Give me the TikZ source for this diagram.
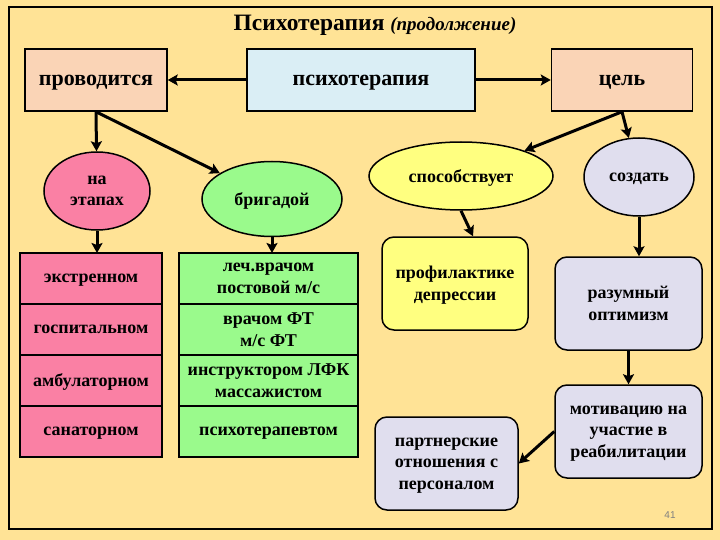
\documentclass[tikz,border=0pt]{standalone}
\usepackage{fontspec}
\setmainfont{Liberation Serif}
\setsansfont{Liberation Sans}
\usetikzlibrary{positioning,shapes.geometric,arrows.meta}

\definecolor{slidebg}{RGB}{255,227,150}
\definecolor{peach}{RGB}{250,212,182}
\definecolor{paleblue}{RGB}{218,238,245}
\definecolor{pinkfill}{RGB}{250,128,164}
\definecolor{greenfill}{RGB}{154,250,140}
\definecolor{yellowfill}{RGB}{255,255,128}
\definecolor{lavender}{RGB}{224,222,238}

\newcommand{\bigfont}{\fontsize{22}{26}\selectfont\bfseries}
\newcommand{\smallfont}{\fontsize{18}{21.5}\selectfont\bfseries}

\begin{document}
\begin{tikzpicture}[x=1pt,y=-1pt,node distance=0pt]
\tikzstyle{head} = [rectangle, draw=black, line width=1.5pt, minimum height=62pt, text centered, text depth=-6pt, font=\bigfont]
\tikzstyle{oval} = [ellipse, draw=black, line width=1.5pt, inner sep=0pt, align=center, text depth=-6pt, font=\smallfont]
\tikzstyle{cell} = [rectangle, draw=black, line width=1.5pt, minimum height=51pt, inner sep=0pt, outer sep=0pt, align=center, text depth=-6pt, font=\smallfont]
\tikzstyle{card} = [rectangle, rounded corners=12pt, draw=black, line width=1.5pt, minimum width=146pt, minimum height=93pt, align=center, text depth=-6pt, font=\smallfont]
\tikzstyle{arrow} = [-{Stealth[length=10pt,width=11pt,inset=2pt]}, line width=3pt]

\fill [slidebg] (0,0) rectangle (720,540);
\draw [line width=2pt] (9,7) rectangle (712,529);

\node (Title) [text depth=0pt] at (375,23) {\fontsize{23.5}{26}\selectfont\bfseries Психотерапия \fontsize{19}{20}\selectfont\itshape (продолжение)};

% top row
\node (Provoditsya) [head, fill=peach, minimum width=142pt] at (96,80) {проводится};
\node (Psikhoterapiya) [head, fill=paleblue, minimum width=228pt] at (361,80) {психотерапия};
\node (Tsel) [head, fill=peach, minimum width=141pt] at (622,80) {цель};

\node (NaEtapakh) [oval, fill=pinkfill, minimum width=106pt, minimum height=78pt] at (97,191) {на\\этапах};
\node (Brigadoi) [oval, fill=greenfill, minimum width=140pt, minimum height=75pt] at (272,199) {бригадой};
\node (Sposobstvuet) [oval, fill=yellowfill, minimum width=184pt, minimum height=68pt] at (461,176) {способствует};
\node (Sozdat) [oval, fill=lavender, minimum width=110pt, minimum height=78pt] at (639,177) {создать};

% pink column
\node (Ekstrennom) [cell, fill=pinkfill, minimum width=142pt] at (91,278.5) {экстренном};
\node (Gospitalnom) [cell, fill=pinkfill, minimum width=142pt, below=of Ekstrennom] {госпитальном};
\node (Ambulatornom) [cell, fill=pinkfill, minimum width=142pt, below=of Gospitalnom] {амбулаторном};
\node (Sanatornom) [cell, fill=pinkfill, minimum width=142pt, below=of Ambulatornom] {санаторном};

% green column
\node (LechVrachom) [cell, fill=greenfill, minimum width=179pt] at (268.5,278.5) {леч.врачом\\постовой м/с};
\node (VrachomFT) [cell, fill=greenfill, minimum width=179pt, below=of LechVrachom] {врачом ФТ\\м/с ФТ};
\node (Instruktorom) [cell, fill=greenfill, minimum width=179pt, below=of VrachomFT] {инструктором ЛФК\\массажистом};
\node (Psikhoterapevtom) [cell, fill=greenfill, minimum width=179pt, below=of Instruktorom] {психотерапевтом};

% right part
\node (Profilaktike) [card, fill=yellowfill] at (455,283.5) {профилактике\\депрессии};
\node (Razumnyi) [card, fill=lavender, minimum width=147pt] at (628.5,303.5) {разумный\\оптимизм};
\node (Motivatsiyu) [card, fill=lavender, minimum width=147pt] at (628.5,431.5) {мотивацию на\\участие в\\реабилитации};
\node (Partnerskie) [card, fill=lavender, minimum width=143pt] at (446.5,463.5) {партнерские\\отношения с\\персоналом};

\node (PageNum) [font=\sffamily\fontsize{10}{12}\selectfont, text=gray] at (670,515) {41};

\draw [arrow] (Psikhoterapiya) -- (Provoditsya);
\draw [arrow] (Psikhoterapiya) -- (Tsel);
\draw [arrow] (Provoditsya.south) -- (NaEtapakh);
\draw [arrow] (Provoditsya.south) -- (Brigadoi);
\draw [arrow] (Tsel.south) -- (Sposobstvuet);
\draw [arrow] (Tsel.south) -- (Sozdat);
\draw [arrow] (NaEtapakh.south) -- (NaEtapakh.south |- Ekstrennom.north);
\draw [arrow] (Brigadoi.south) -- (Brigadoi.south |- LechVrachom.north);
\draw [arrow] (Sposobstvuet.south) -- ([xshift=18pt]Profilaktike.north);
\draw [arrow] (Sozdat.south) -- (Sozdat.south |- Razumnyi.north);
\draw [arrow] (Razumnyi) -- (Motivatsiyu);
\draw [arrow] (Motivatsiyu.west) -- (Partnerskie.east);

\end{tikzpicture}
\end{document}
